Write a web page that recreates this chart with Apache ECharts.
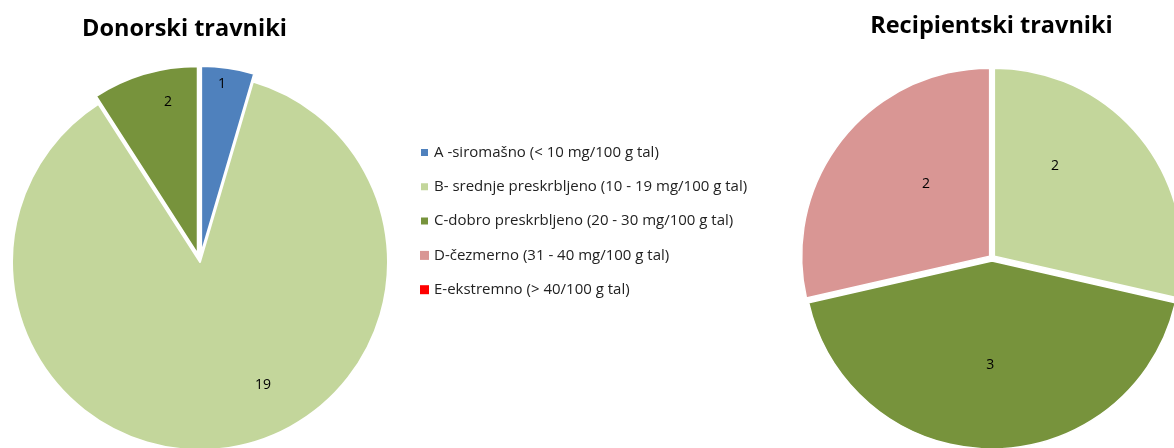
<!DOCTYPE html>
<html>
<head>
<meta charset="utf-8">
<script src="https://cdn.jsdelivr.net/npm/echarts@6/dist/echarts.min.js"></script>
<style>
  html, body { margin: 0; padding: 0; background: #fff; }
  #chart { width: 1174px; height: 448px; }
</style>
</head>
<body>
<div id="chart"></div>
<script>
// Phosphorus supply classes (legend entries)
const categories = [
  'A -siromašno (< 10 mg/100 g tal)',
  'B- srednje preskrbljeno (10 - 19 mg/100 g tal)',
  'C-dobro preskrbljeno (20 - 30 mg/100 g tal)',
  'D-čezmerno (31 - 40 mg/100 g tal)',
  'E-ekstremno (> 40/100 g tal)'
];
// Number of grasslands in each class
const donorValues = [1, 19, 2, 0, 0];
const recipientValues = [0, 2, 3, 2, 0];
const chartTitles = ['Donorski travniki', 'Recipientski travniki'];

const classColors = ['#4F81BD', '#C3D69B', '#77933C', '#D99694', '#FF0000'];
const FONT = '"Open Sans", "Liberation Sans", sans-serif';

// Label placement inside each slice: [angle clockwise from 12 o'clock, fraction of radius]
const donorLabelPolar = [[7.05, 0.954], [152.9, 0.735], [-11.3, 0.868], null, null];
const recipientLabelPolar = [null, [34.4, 0.593], [181, 0.569], [-41.7, 0.528], null];

const donorPie = { center: [200, 262], radius: 188 };
const recipientPie = { center: [992, 258], radius: 188 };

// Coloured slices; exploded slices are drawn as "selected"
function sliceData(values, explode) {
  return categories.map((name, i) => ({
    name: name,
    value: values[i],
    selected: values[i] > 0 && !!explode[i],
    itemStyle: { color: classColors[i], borderWidth: values[i] > 0 ? undefined : 0 }
  }));
}

// Same values, used only to carry the value labels
function labelData(values) {
  return categories.map((name, i) => ({
    name: name,
    value: values[i],
    label: { show: values[i] > 0 }
  }));
}

function labelPlacer(pie, polar) {
  return function (params) {
    const p = polar[params.dataIndex];
    if (!p) return {};
    const a = p[0] * Math.PI / 180;
    const d = p[1] * pie.radius;
    return { x: pie.center[0] + d * Math.sin(a), y: pie.center[1] - d * Math.cos(a) };
  };
}

function slicesSeries(title, pie, values, explode, offset, border) {
  return {
    type: 'pie',
    name: title,
    center: pie.center,
    radius: pie.radius,
    startAngle: 90,
    clockwise: true,
    selectedMode: 'multiple',
    selectedOffset: offset,
    itemStyle: { borderColor: '#ffffff', borderWidth: border },
    label: { show: false },
    labelLine: { show: false },
    emphasis: { disabled: true },
    data: sliceData(values, explode)
  };
}

function labelSeries(title, pie, values, polar) {
  return {
    type: 'pie',
    name: title,
    center: pie.center,
    radius: pie.radius,
    startAngle: 90,
    clockwise: true,
    silent: true,
    selectedMode: false,
    itemStyle: { color: 'rgba(0,0,0,0)', borderWidth: 0 },
    label: {
      position: 'inside', formatter: '{c}',
      fontFamily: FONT, fontSize: 14, color: '#000'
    },
    labelLine: { show: false },
    labelLayout: labelPlacer(pie, polar),
    emphasis: { disabled: true },
    data: labelData(values)
  };
}

const chart = echarts.init(document.getElementById('chart'), null, { renderer: 'canvas' });

chart.setOption({
  animation: false,
  backgroundColor: '#ffffff',
  title: [
    {
      text: chartTitles[0], left: 179.5, top: 12, textAlign: 'center',
      textStyle: { fontFamily: FONT, fontSize: 23.5, fontWeight: 'bold', color: '#000' }
    },
    {
      text: chartTitles[1], left: 986.5, top: 9, textAlign: 'center',
      textStyle: { fontFamily: FONT, fontSize: 23.5, fontWeight: 'bold', color: '#000' }
    }
  ],
  legend: {
    orient: 'vertical',
    left: 414,
    top: 140,
    icon: 'rect',
    itemWidth: 9,
    itemHeight: 9,
    itemGap: 19.3,
    selectedMode: false,
    data: categories,
    textStyle: { fontFamily: FONT, fontSize: 15, color: '#222' }
  },
  series: [
    slicesSeries(chartTitles[0], donorPie, donorValues, [true, false, true, false, false], 8, 2),
    slicesSeries(chartTitles[1], recipientPie, recipientValues, [true, true, true, true, true], 3, 1.5),
    labelSeries(chartTitles[0], donorPie, donorValues, donorLabelPolar),
    labelSeries(chartTitles[1], recipientPie, recipientValues, recipientLabelPolar)
  ]
});
</script>
</body>
</html>
